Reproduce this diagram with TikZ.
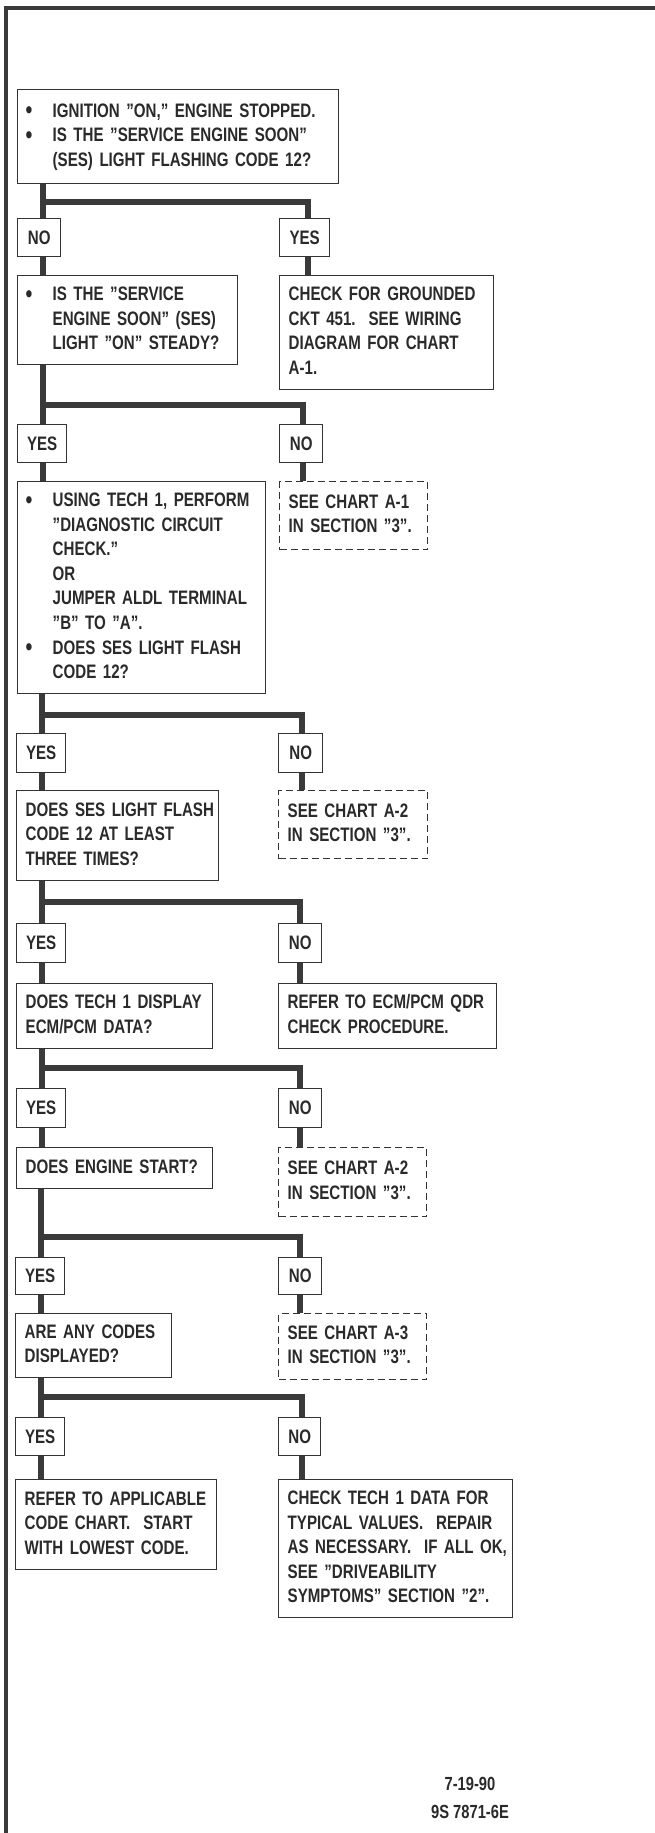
\documentclass[tikz,border=0pt]{standalone}
\usepackage{fontspec}
\newfontfamily\chartfont[FakeStretch=0.775]{Liberation Sans}
\definecolor{linec}{HTML}{333333}
\definecolor{connc}{HTML}{3A3A3A}
\definecolor{textc}{HTML}{2A2A2A}
\newcommand{\bl}{\makebox[25pt][l]{\hspace*{-2pt}\raisebox{-1.6pt}{\fontsize{25}{25}\selectfont\textbullet}}}
\newcommand{\ind}{\hspace*{25pt}}
\newcommand{\tl}[1]{\begin{tabular}{@{}l@{}}#1\end{tabular}}
\tikzset{
  box/.style={draw=linec, line width=1.4pt, fill=white, inner xsep=9pt, inner ysep=0pt,
    anchor=north west, align=left, text=textc},
  bbox/.style={box, inner xsep=10pt},
  dbox/.style={box, dash pattern=on 7pt off 4pt},
  lab/.style={draw=linec, line width=1.4pt, fill=white, inner sep=0pt, anchor=north west,
    align=center, text=textc},
  conn/.style={draw=connc, line width=5.5pt},
  hconn/.style={conn, line cap=rect},
  frame/.style={draw=connc, line width=3.2pt}
}
\begin{document}
\begin{tikzpicture}[x=1pt, y=-1pt, font=\chartfont\bfseries\fontsize{19.5}{24.6}\selectfont]
\useasboundingbox[fill=white] (0,0) rectangle (655,1833);
\draw[frame] (655,8) -- (6,8) -- (6,1833);

% row 1
\node[bbox, text width=301pt, minimum height=94pt] (b1) at (17,89)
  {\tl{\bl IGNITION ”ON,” ENGINE STOPPED.\\ \bl IS THE ”SERVICE ENGINE SOON”\\ \ind (SES) LIGHT FLASHING CODE 12?}};
\node[lab, minimum width=43pt, minimum height=38pt] (n1) at (17,218) {NO};
\node[lab, minimum width=50pt, minimum height=38pt] (y1) at (279,218) {YES};
\node[bbox, text width=200pt, minimum height=89pt] (b2) at (17,275)
  {\tl{\bl IS THE ”SERVICE\\ \ind ENGINE SOON” (SES)\\ \ind LIGHT ”ON” STEADY?}};
\node[box, text width=196pt, minimum height=114pt] (c1) at (279,275)
  {\tl{CHECK FOR GROUNDED\\ CKT 451.\ \ SEE WIRING\\ DIAGRAM FOR CHART\\ A-1.}};

% row 2
\node[lab, minimum width=49pt, minimum height=38pt] (y2) at (17,424) {YES};
\node[lab, minimum width=43pt, minimum height=38pt] (n2) at (279,424) {NO};
\node[bbox, text width=228pt, minimum height=212pt] (b3) at (17,481)
  {\tl{\bl USING TECH 1, PERFORM\\ \ind ”DIAGNOSTIC CIRCUIT\\ \ind CHECK.”\\ \ind OR\\ \ind JUMPER ALDL TERMINAL\\ \ind ”B” TO ”A”.\\ \bl DOES SES LIGHT FLASH\\ \ind CODE 12?}};
\node[dbox, text width=130pt, minimum height=68pt] (d1) at (279,481)
  {\tl{SEE CHART A-1\\ IN SECTION ”3”.}};

% row 3
\node[lab, minimum width=49pt, minimum height=39pt] (y3) at (16,733) {YES};
\node[lab, minimum width=44pt, minimum height=39pt] (n3) at (278,733) {NO};
\node[box, text width=184pt, minimum height=90pt] (b4) at (16,790)
  {\tl{DOES SES LIGHT FLASH\\ CODE 12 AT LEAST\\ THREE TIMES?}};
\node[dbox, text width=131pt, minimum height=68pt] (d2) at (278,790)
  {\tl{SEE CHART A-2\\ IN SECTION ”3”.}};

% row 4
\node[lab, minimum width=49pt, minimum height=39pt] (y4) at (16,923) {YES};
\node[lab, minimum width=43pt, minimum height=39pt] (n4) at (278,923) {NO};
\node[box, text width=178pt, minimum height=65pt] (b5) at (16,983)
  {\tl{DOES TECH 1 DISPLAY\\ ECM/PCM DATA?}};
\node[box, text width=200pt, minimum height=65pt] (r1) at (278,983)
  {\tl{REFER TO ECM/PCM QDR\\ CHECK PROCEDURE.}};

% row 5
\node[lab, minimum width=49pt, minimum height=39pt] (y5) at (16,1088) {YES};
\node[lab, minimum width=43pt, minimum height=39pt] (n5) at (278,1088) {NO};
\node[box, text width=178pt, minimum height=41pt] (b6) at (16,1147)
  {\tl{DOES ENGINE START?}};
\node[dbox, text width=130pt, minimum height=69pt] (d3) at (278,1147)
  {\tl{SEE CHART A-2\\ IN SECTION ”3”.}};

% row 6
\node[lab, minimum width=49pt, minimum height=37pt] (y6) at (15,1257) {YES};
\node[lab, minimum width=43pt, minimum height=37pt] (n6) at (278,1257) {NO};
\node[box, text width=138pt, minimum height=64pt] (b7) at (15,1313)
  {\tl{ARE ANY CODES\\ DISPLAYED?}};
\node[dbox, text width=130pt, minimum height=66pt] (d4) at (278,1313)
  {\tl{SEE CHART A-3\\ IN SECTION ”3”.}};

% row 7
\node[lab, minimum width=49pt, minimum height=38pt] (y7) at (15,1417) {YES};
\node[lab, minimum width=42pt, minimum height=38pt] (n7) at (278,1417) {NO};
\node[box, text width=183pt, minimum height=90pt] (b8) at (15,1479)
  {\tl{REFER TO APPLICABLE\\ CODE CHART.\ \ START\\ WITH LOWEST CODE.}};
\node[box, text width=216pt, minimum height=138pt] (c2) at (278,1479)
  {\tl{CHECK TECH 1 DATA FOR\\ TYPICAL VALUES.\ \ REPAIR\\ AS NECESSARY.\ \ IF ALL OK,\\ SEE ”DRIVEABILITY\\ SYMPTOMS” SECTION ”2”.}};

% footer
\node[text=textc, align=center, font=\chartfont\bfseries\fontsize{19}{28}\selectfont] (foot) at (470,1798)
  {7-19-90\\ 9S 7871-6E};

% branch points
\coordinate (h1) at (43,202);   \coordinate (k1) at (308,202);
\coordinate (h2) at (43,405);   \coordinate (k2) at (303,405);
\coordinate (h3) at (42,715);   \coordinate (k3) at (302,715);
\coordinate (h4) at (42,902);   \coordinate (k4) at (300,902);
\coordinate (h5) at (42,1068);  \coordinate (k5) at (300,1068);
\coordinate (h6) at (41,1237);  \coordinate (k6) at (300,1237);
\coordinate (h7) at (41,1397);  \coordinate (k7) at (302,1397);

% connectors
\draw[conn] (b1.south -| h1) -- (n1.north -| h1);
\draw[hconn] (h1) -- (k1);
\draw[conn] (k1) -- (y1.north -| k1);
\draw[conn] (n1.south -| h1) -- (b2.north -| h1);
\draw[conn] (y1.south -| k1) -- (c1.north -| k1);

\draw[conn] (b2.south -| h2) -- (y2.north -| h2);
\draw[hconn] (h2) -- (k2);
\draw[conn] (k2) -- (n2.north -| k2);
\draw[conn] (y2.south -| h2) -- (b3.north -| h2);
\draw[conn] (n2.south -| k2) -- (d1.north -| k2);

\draw[conn] (b3.south -| h3) -- (y3.north -| h3);
\draw[hconn] (h3) -- (k3);
\draw[conn] (k3) -- (n3.north -| k3);
\draw[conn] (y3.south -| h3) -- (b4.north -| h3);
\draw[conn] (n3.south -| k3) -- (d2.north -| k3);

\draw[conn] (b4.south -| h4) -- (y4.north -| h4);
\draw[hconn] (h4) -- (k4);
\draw[conn] (k4) -- (n4.north -| k4);
\draw[conn] (y4.south -| h4) -- (b5.north -| h4);
\draw[conn] (n4.south -| k4) -- (r1.north -| k4);

\draw[conn] (b5.south -| h5) -- (y5.north -| h5);
\draw[hconn] (h5) -- (k5);
\draw[conn] (k5) -- (n5.north -| k5);
\draw[conn] (y5.south -| h5) -- (b6.north -| h5);
\draw[conn] (n5.south -| k5) -- (d3.north -| k5);

\draw[conn] (b6.south -| h6) -- (y6.north -| h6);
\draw[hconn] (h6) -- (k6);
\draw[conn] (k6) -- (n6.north -| k6);
\draw[conn] (y6.south -| h6) -- (b7.north -| h6);
\draw[conn] (n6.south -| k6) -- (d4.north -| k6);

\draw[conn] (b7.south -| h7) -- (y7.north -| h7);
\draw[hconn] (h7) -- (k7);
\draw[conn] (k7) -- (n7.north -| k7);
\draw[conn] (y7.south -| h7) -- (b8.north -| h7);
\draw[conn] (n7.south -| k7) -- (c2.north -| k7);
\end{tikzpicture}
\end{document}
